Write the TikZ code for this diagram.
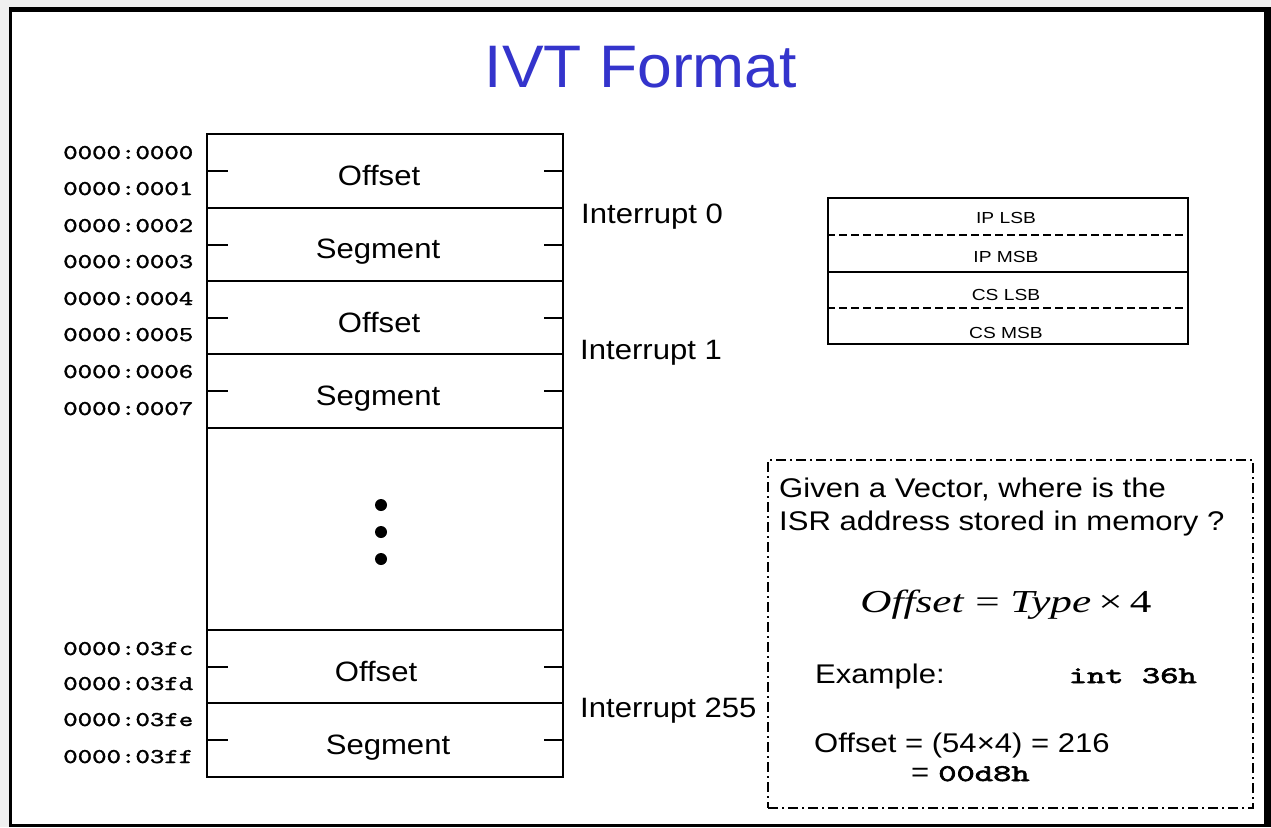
\documentclass[tikz,border=0pt]{standalone}
\usepackage{fontspec}
\setmainfont{Liberation Sans}
\newfontfamily\codefont{lmmono10-regular.otf}[FakeBold=1.2]
\newfontfamily\codefontb{lmmono10-regular.otf}[FakeBold=2.2]
\newfontfamily\tmsfont{Liberation Serif}
\definecolor{ttl}{HTML}{3434CC}
\definecolor{bgray}{HTML}{F0F0F0}
\tikzset{
  cell/.style={draw, line width=2pt, minimum width=356pt, inner sep=0pt},
  tick/.style={line width=2pt},
  lbl/.style={font=\fontsize{28}{32}\selectfont, xscale=1.11, inner sep=0pt, anchor=base},
  addr/.style={font=\codefont\fontsize{21}{24}\selectfont, xscale=1.31, inner sep=0pt, anchor=base west},
  small/.style={font=\fontsize{16}{18}\selectfont, xscale=1.2, inner sep=0pt, anchor=base},
  rcell/.style={draw, line width=1.5pt, minimum width=360pt, inner sep=0pt},
  qtext/.style={font=\fontsize{27}{30}\selectfont, xscale=1.15, inner sep=0pt, anchor=base west},
  codebold/.style={font=\codefontb\fontsize{24}{28}\selectfont, xscale=1.45, inner sep=0pt},
  dashdotbox/.style={draw, line width=1.5pt, dash pattern=on 10pt off 4pt on 2pt off 4pt, inner sep=0pt}
}
\begin{document}
\begin{tikzpicture}[x=1pt,y=-1pt]
\fill[bgray] (0,0) rectangle (1271,827);
\useasboundingbox (0,0) rectangle (1271,827);
\fill[black] (9,7) rectangle (1271,827);
\fill[white] (12,12) rectangle (1264,824);

% title
\node[font=\fontsize{60}{70}\selectfont, text=ttl, xscale=1.04, inner sep=0pt, anchor=base] (title) at (641,87) {IVT Format};

% main table cells
\node[cell, minimum height=74pt] (c1) at (385,171) {};
\node[cell, minimum height=73pt] (c2) at (385,244.5) {};
\node[cell, minimum height=73pt] (c3) at (385,317.5) {};
\node[cell, minimum height=74pt] (c4) at (385,391) {};
\node[cell, minimum height=202pt] (c5) at (385,529) {};
\node[cell, minimum height=73pt] (c6) at (385,666.5) {};
\node[cell, minimum height=74pt] (c7) at (385,740) {};

% ticks
\foreach \c in {c1,c2,c3,c4,c6,c7}{
  \draw[tick] (\c.west) -- ++(22,0);
  \draw[tick] (\c.east) -- ++(-20,0);
}

% cell labels
\node[lbl] (o1) at (379,185) {Offset};
\node[lbl] (s1) at (378,258) {Segment};
\node[lbl] (o2) at (379,332) {Offset};
\node[lbl] (s2) at (378,405) {Segment};
\node[lbl] (o3) at (376,681) {Offset};
\node[lbl] (s3) at (388,754) {Segment};

% dots
\fill (381,505) circle[radius=6pt];
\fill (381,532) circle[radius=6pt];
\fill (381,559) circle[radius=6pt];

% addresses
\node[addr] (a0) at (63,159) {0000:0000};
\node[addr] (a1) at (63,195) {0000:0001};
\node[addr] (a2) at (63,232) {0000:0002};
\node[addr] (a3) at (63,268) {0000:0003};
\node[addr] (a4) at (63,305) {0000:0004};
\node[addr] (a5) at (63,341) {0000:0005};
\node[addr] (a6) at (63,378) {0000:0006};
\node[addr] (a7) at (63,415) {0000:0007};
\node[addr] (a8) at (63,655) {0000:03fc};
\node[addr] (a9) at (63,690) {0000:03fd};
\node[addr] (a10) at (63,726) {0000:03fe};
\node[addr] (a11) at (63,763) {0000:03ff};

% interrupts
\node[lbl, anchor=base west] (i0) at (581,223) {Interrupt 0};
\node[lbl, anchor=base west] (i1) at (580,359) {Interrupt 1};
\node[lbl, anchor=base west] (i255) at (580,717) {Interrupt 255};

% right table
\node[rcell, minimum height=74pt] (ip) at (1008,235) {};
\node[rcell, minimum height=72pt] (cs) at (1008,308) {};
\draw[line width=1.5pt, dash pattern=on 8pt off 4pt] (ip.west) -- (ip.east);
\draw[line width=1.5pt, dash pattern=on 8pt off 4pt] (cs.west) -- (cs.east);
\node[small] (t1) at (1006,223) {IP LSB};
\node[small] (t2) at (1006,262) {IP MSB};
\node[small] (t3) at (1006,300) {CS LSB};
\node[small] (t4) at (1006,338) {CS MSB};

% question box
\node[dashdotbox, minimum width=485pt, minimum height=348pt] (qbox) at (1010.5,634) {};
\node[qtext] (q1) at (779,497) {Given a Vector, where is the};
\node[qtext] (q2) at (779,530) {ISR address stored in memory ?};
\node[font=\tmsfont\fontsize{32}{36}\selectfont, xscale=1.35, inner sep=0pt, anchor=base] (f) at (1006,612) {\textit{Offset} = \textit{Type}\,×\,4};
\node[qtext] (ex) at (815,683) {Example:};
\node[codebold, anchor=base east] (int) at (1197,683) {int 36h};
\node[qtext] (calc) at (814,752) {Offset = (54×4) = 216};
\node[qtext] (eq) at (911,781) {=};
\node[codebold, anchor=base west] (hex) at (938,781) {00d8h};
\end{tikzpicture}
\end{document}
